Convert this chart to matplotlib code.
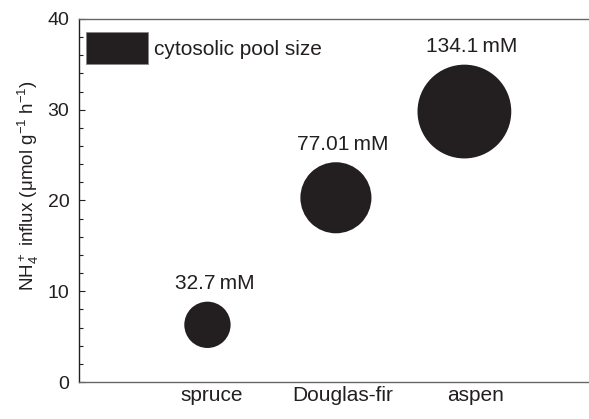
import matplotlib
matplotlib.use("Agg")
import matplotlib.pyplot as plt
import matplotlib.patches as mpatches
import numpy as np

plt.rcParams['font.family'] = ['Liberation Sans', 'DejaVu Sans']
plt.rcParams['mathtext.fontset'] = 'custom'
plt.rcParams['mathtext.rm'] = 'Liberation Sans'
plt.rcParams['mathtext.it'] = 'Liberation Sans:italic'

# NH4+ influx per species, bubble area scaled by cytosolic pool size
species = ['spruce', 'Douglas-fir', 'aspen']
influx = [6.3, 20.3, 29.8]
pool_mM = [32.7, 77.01, 134.1]
pool_labels = ['32.7\u2009mM', '77.01\u2009mM', '134.1\u2009mM']

ink = '#231f20'
fs = 15

fig = plt.figure(figsize=(5.89, 4.19), dpi=100)
ax = fig.add_axes([0.1341, 0.0883, 0.8659, 0.8664])

xpos = np.arange(1, len(species) + 1)
sizes = np.array(pool_mM) * 34
ax.scatter(xpos, influx, s=sizes, color=ink, edgecolors='none', zorder=3)

# pool size labels above each bubble
for x, y, s, lab in zip(xpos, influx, sizes, pool_labels):
    r_pt = np.sqrt(s) / 2
    ax.annotate(lab, (x, y), xytext=(5, r_pt + 6), textcoords='offset points',
                ha='center', va='bottom', fontsize=fs, color=ink)

ax.set_xlim(0, 3.97)
ax.set_ylim(0, 40)
ax.set_yticks([0, 10, 20, 30, 40])
ax.set_yticks(np.arange(0, 41, 2), minor=True)
ax.tick_params(axis='y', which='major', direction='in', length=4.5, width=0.8,
               labelsize=14, colors=ink, pad=7)
ax.tick_params(axis='y', which='minor', direction='in', length=3, width=0.8, colors=ink)

# category names sit slightly right of the bubbles
ax.set_xticks(xpos + np.array([0.03, 0.05, 0.09]))
ax.set_xticklabels(species)
ax.tick_params(axis='x', length=0, labelsize=fs, colors=ink, pad=3)

ax.spines['right'].set_visible(False)
ax.spines['left'].set_color(ink)
for side in ['top', 'bottom']:
    ax.spines[side].set_color('#666666')
for side in ['left', 'top', 'bottom']:
    ax.spines[side].set_linewidth(1.0)

ax.set_ylabel('NH$_4^+$ influx (μmol g$^{-1}$ h$^{-1}$)', fontsize=13.5, color=ink,
              labelpad=3)
ax.yaxis.set_label_coords(-0.075, 0.54)

handle = mpatches.Patch(facecolor=ink, edgecolor='#888888', linewidth=0.6,
                        label='cytosolic pool size')
ax.legend(handles=[handle], loc='upper left', bbox_to_anchor=(0.0136, 0.964),
          frameon=False, fontsize=fs, handlelength=3.0, handleheight=2.0,
          handletextpad=0.25, borderpad=0, borderaxespad=0, labelcolor=ink)

fig.savefig('out.png', dpi=100)
